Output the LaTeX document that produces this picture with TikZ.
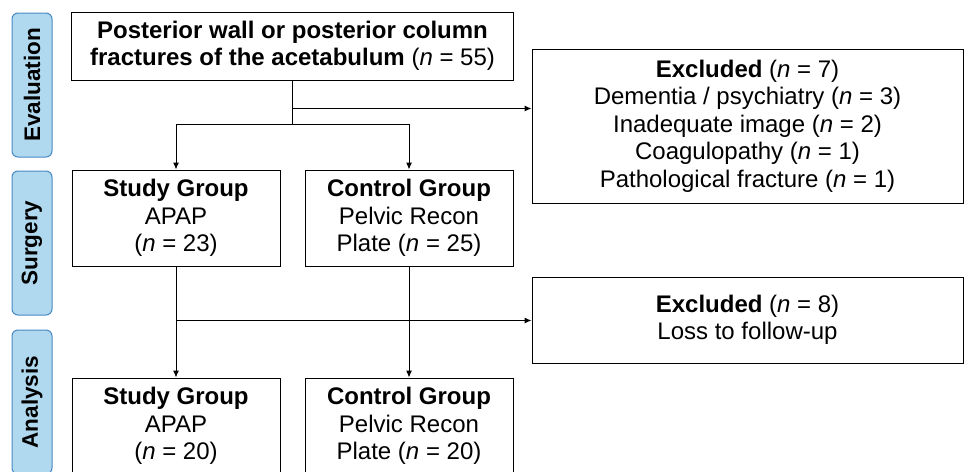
\documentclass[tikz,border=0pt]{standalone}
\usepackage{fontspec}
\setmainfont{Liberation Sans}
\usetikzlibrary{positioning}
\usetikzlibrary{arrows.meta}
\usetikzlibrary{calc}

\definecolor{stagefill}{RGB}{176,217,239}
\definecolor{stageline}{RGB}{70,136,196}

\tikzset{
  flowbox/.style={draw, line width=1pt, rectangle, align=center, inner sep=2pt,
    font=\fontsize{24}{27.5}\selectfont},
  stagebox/.style={draw=stageline, fill=stagefill, line width=1pt, rounded corners=6pt,
    minimum width=40pt, minimum height=144pt, inner sep=0pt},
  stagetext/.style={rotate=90, font=\fontsize{22.5}{25}\selectfont\bfseries},
  flowarrow/.style={line width=1pt, -{Latex[length=7pt,width=6pt]}},
}

\begin{document}
\begin{tikzpicture}[x=1pt, y=1pt]
  % picture frame of the reference
  \useasboundingbox (0,0) rectangle (965,-471);
  \clip (0,0) rectangle (965,-471);

  % stage labels on the left
  \foreach \name/\ypos in {Evaluation/85, Surgery/243, Analysis/402} {
    \node[stagebox] (stage\name) at (32,-\ypos) {};
    \node[stagetext] at (stage\name) {\name};
  }

  % boxes
  \node[flowbox, minimum width=442pt, minimum height=68pt] (cohort) at (292.5,-46)
    {\textbf{Posterior wall or posterior column}\\\textbf{fractures of the acetabulum} (\textit{n} = 55)};
  \node[flowbox, minimum width=431pt, minimum height=154pt] (exclA) at (747.5,-126)
    {\textbf{Excluded} (\textit{n} = 7)\\Dementia / psychiatry (\textit{n} = 3)\\Inadequate image (\textit{n} = 2)\\Coagulopathy (\textit{n} = 1)\\Pathological fracture (\textit{n} = 1)};
  \node[flowbox, minimum width=208pt, minimum height=96pt] (studyS) at (176,-218)
    {\textbf{Study Group}\\APAP\\(\textit{n} = 23)};
  \node[flowbox, minimum width=208pt, minimum height=96pt] (controlS) at (409,-218)
    {\textbf{Control Group}\\Pelvic Recon\\Plate (\textit{n} = 25)};
  \node[flowbox, minimum width=431pt, minimum height=86pt] (exclB) at (747.5,-320)
    {\textbf{Excluded} (\textit{n} = 8)\\Loss to follow-up};
  \node[flowbox, minimum width=208pt, minimum height=96pt] (studyA) at (176,-426)
    {\textbf{Study Group}\\APAP\\(\textit{n} = 20)};
  \node[flowbox, minimum width=208pt, minimum height=96pt] (controlA) at (409,-426)
    {\textbf{Control Group}\\Pelvic Recon\\Plate (\textit{n} = 20)};

  % junction points
  \coordinate (splitA) at ($(cohort.south)+(0,-28)$);
  \coordinate (forkA) at ($(cohort.south)+(0,-44)$);
  \coordinate (splitB) at ($(studyS.south)+(0,-54)$);

  % connectors
  \draw[line width=1pt] (cohort.south) -- (forkA);
  \draw[flowarrow] (splitA) -- (splitA -| exclA.west);
  \draw[flowarrow] (forkA) -| (studyS.north);
  \draw[flowarrow] (forkA) -| (controlS.north);
  \draw[flowarrow] (studyS.south) -- (studyA.north);
  \draw[flowarrow] (controlS.south) -- (controlA.north);
  \draw[flowarrow] (splitB) -- (splitB -| exclB.west);
\end{tikzpicture}
\end{document}
